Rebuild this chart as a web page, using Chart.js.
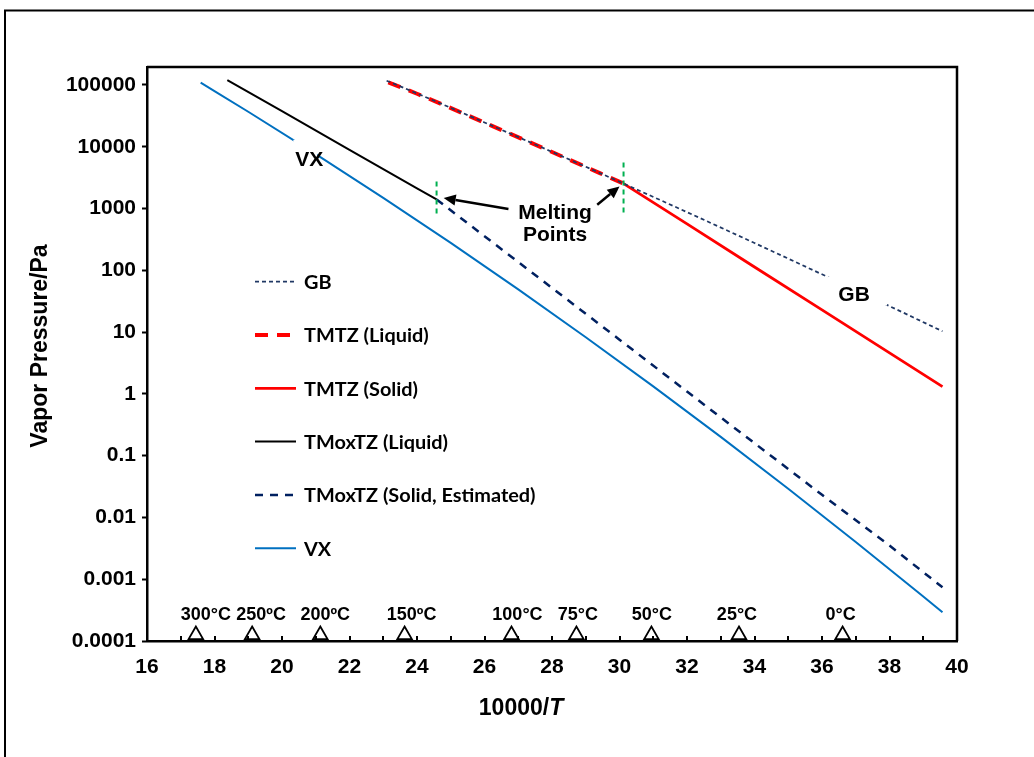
<!DOCTYPE html>
<html><head><meta charset="utf-8">
<script src="https://cdn.jsdelivr.net/npm/chart.js@4.4.1/dist/chart.umd.min.js"></script>
<style>html,body{margin:0;padding:0;background:#fff;}#wrap{width:1034px;height:757px;}</style>
</head><body><div id="wrap"><canvas id="c" width="1034" height="757"></canvas></div>
<script>
// ---------- data ----------
const xTicks = [16,18,20,22,24,26,28,30,32,34,36,38,40];
const yTickValues = [1e-4,1e-3,1e-2,1e-1,1,10,100,1000,10000,100000];
const yTickLabels = ['0.0001','0.001','0.01','0.1','1','10','100','1000','10000','100000'];

const gbX = [23.1, 24, 26, 28, 30.12, 32, 34, 36, 38, 39.57];
const gbP = [117000, 72800, 24700, 8250, 2530, 873, 276, 86, 26.3, 10.3];

const tmtzLiqX = [23.15, 24, 26, 28, 30.12];
const tmtzLiqP = [110000, 72000, 24500, 8200, 2530];

const tmtzSolX = [30.12, 32, 34, 36, 38, 39.57];
const tmtzSolP = [2530, 562, 113, 22.9, 4.61, 1.31];

const tmoxLiqX = [18.38, 20, 22, 24, 24.58];
const tmoxLiqP = [120000, 37600, 8900, 2120, 1400];

const tmoxSolX = [24.58, 26, 28, 30, 32, 34, 36, 38, 39.57];
const tmoxSolP = [1400, 356, 51.8, 7.53, 1.09, 0.159, 0.0232, 0.0035, 0.00074];

const vxX = [17.59, 19, 21, 23, 25, 27, 29, 31, 33, 35, 37, 39, 39.57];
const vxP = [108900, 36800, 7590, 1486, 277, 49.0, 8.24, 1.32, 0.201, 0.0291, 0.00401, 0.000525, 0.000292];

const mp1X = [24.58, 24.58];  const mp1P = [2740, 766];
const mp2X = [30.12, 30.12];  const mp2P = [5560, 794];

const tempC = [300, 250, 200, 150, 100, 75, 50, 25, 0];
const tempLabels = ['300°C','250ºC','200ºC','150ºC','100°C','75°C','50°C','25°C','0°C'];
const markerP = [0.000125,0.000125,0.000125,0.000125,0.000125,0.000125,0.000125,0.000125,0.000125];

const legendNames = ['GB','TMTZ (Liquid)','TMTZ (Solid)','TMoxTZ (Liquid)','TMoxTZ (Solid, Estimated)','VX'];

const curveLabels = [
  {text:'VX', x:20.81, y:6380, pad:[16,19,8,8]},
  {text:'GB', x:36.95, y:41.3, pad:[27,17.5,33,11.5]}
];
const meltText = [{text:'Melting', x:28.09, y:887},{text:'Points', x:28.09, y:378}];
const arrows = [
  {x1:26.71, y1:982, x2:24.79, y2:1480},
  {x1:29.34, y1:1150, x2:30.00, y2:2280}
];

// ---------- build ----------
const pts = (xs, ys) => xs.map((x,i)=>({x, y: ys[i]}));
const tempX = tempC.map(t => 10000/(t+273.15));
const tempLabelShift = [10, 9, 5, 7, 6, 1.5, 0.5, -2, -2];   // px nudges of the label boxes

const AX = "'Liberation Sans', Arial, sans-serif";
const LEG = "Lato, 'Open Sans', sans-serif";

const lineDs = (label, xs, ys, color, width, dash, order, extra) => Object.assign({
  label, data: pts(xs, ys), showLine: true, borderColor: color, backgroundColor: color,
  borderWidth: width, borderDash: dash, pointRadius: 0, pointHoverRadius: 0, fill: false,
  borderCapStyle: 'butt', order
}, extra || {});

const datasets = [
  lineDs(legendNames[0], gbX, gbP, '#203864', 1.75, [4,3], 1, {cubicInterpolationMode:'monotone'}),
  lineDs(legendNames[1], tmtzLiqX, tmtzLiqP, '#FF0000', 4, [13,9], 2, {cubicInterpolationMode:'monotone'}),
  lineDs(legendNames[2], tmtzSolX, tmtzSolP, '#FF0000', 2.75, [], 3),
  lineDs(legendNames[3], tmoxLiqX, tmoxLiqP, '#000000', 2, [], 4),
  lineDs(legendNames[4], tmoxSolX, tmoxSolP, '#002060', 2.5, [8,7], 5),
  lineDs(legendNames[5], vxX, vxP, '#0070C0', 2, [], 6, {cubicInterpolationMode:'monotone'}),
  lineDs('mp1', mp1X, mp1P, '#00B050', 2, [5,4], 0),
  lineDs('mp2', mp2X, mp2P, '#00B050', 2, [5,4], 0),
  { label:'temps', data: pts(tempX, markerP), showLine:false, pointStyle:'triangle', pointRadius:8.5,
    pointHoverRadius:8.5, pointBorderColor:'#000', pointBackgroundColor:'#fff', pointBorderWidth:1.8, clip:false, order:0 }
];

function drawArrow(ctx, x1, y1, x2, y2){
  const ang = Math.atan2(y2-y1, x2-x1), L = 12, W = 5.5;
  const bx = x2 - L*Math.cos(ang), by = y2 - L*Math.sin(ang);
  ctx.beginPath(); ctx.moveTo(x1,y1); ctx.lineTo(bx,by); ctx.lineWidth = 2.5; ctx.strokeStyle='#000'; ctx.stroke();
  ctx.beginPath(); ctx.moveTo(x2,y2);
  ctx.lineTo(bx + W*Math.sin(ang), by - W*Math.cos(ang));
  ctx.lineTo(bx - W*Math.sin(ang), by + W*Math.cos(ang));
  ctx.closePath(); ctx.fillStyle='#000'; ctx.fill();
}

const decor = {
  id: 'decor',
  beforeDraw(chart){
    const ctx = chart.ctx; ctx.save();
    ctx.fillStyle = '#fff'; ctx.fillRect(0,0,chart.width,chart.height);
    ctx.strokeStyle = '#000'; ctx.lineWidth = 2; ctx.strokeRect(5, 10.5, 1200, 1200);
    ctx.restore();
  },
  afterDatasetsDraw(chart){
    const ctx = chart.ctx, xs = chart.scales.x, ys = chart.scales.y;
    ctx.save();
    ctx.font = 'bold 21px ' + AX; ctx.textAlign = 'center'; ctx.textBaseline = 'middle';
    curveLabels.forEach(l => {
      const px = xs.getPixelForValue(l.x), py = ys.getPixelForValue(l.y);
      ctx.fillStyle = '#fff';
      ctx.fillRect(px - l.pad[0], py - l.pad[1], l.pad[0] + l.pad[2], l.pad[1] + l.pad[3]);
      ctx.fillStyle = '#000'; ctx.fillText(l.text, px, py + 1);
    });
    meltText.forEach(l => {
      ctx.fillText(l.text, xs.getPixelForValue(l.x), ys.getPixelForValue(l.y) + 1);
    });
    arrows.forEach(a => drawArrow(ctx, xs.getPixelForValue(a.x1), ys.getPixelForValue(a.y1),
                                       xs.getPixelForValue(a.x2), ys.getPixelForValue(a.y2)));
    ctx.font = 'bold 18px ' + AX; ctx.fillStyle = '#000';
    tempLabels.forEach((t,i) => {
      ctx.fillText(t, xs.getPixelForValue(tempX[i]) + tempLabelShift[i], ys.getPixelForValue(markerP[i]) - 20);
    });
    ctx.restore();
  },
  afterDraw(chart){
    const ctx = chart.ctx, a = chart.chartArea, xs = chart.scales.x;
    ctx.save();
    ctx.strokeStyle = '#000'; ctx.lineWidth = 2.5;
    ctx.beginPath(); ctx.moveTo(a.left, a.top); ctx.lineTo(a.right, a.top); ctx.lineTo(a.right, a.bottom); ctx.stroke();
    ctx.lineWidth = 2;
    for (let v = xTicks[0] + 1; v < xTicks[xTicks.length-1]; v++) {
      const px = Math.round(xs.getPixelForValue(v));
      ctx.beginPath(); ctx.moveTo(px, a.bottom); ctx.lineTo(px, a.bottom - 5); ctx.stroke();
    }
    // legend
    ctx.font = 'bold 100px ' + LEG;
    const legSize = 100 * 125 / ctx.measureText('TMTZ (Liquid)').width;
    ctx.font = 'bold ' + legSize.toFixed(1) + 'px ' + LEG;
    ctx.textAlign = 'left'; ctx.textBaseline = 'middle';
    for (let i = 0; i < 6; i++) {
      const ds = chart.data.datasets[i], y = 281.7 + i * 53.3;
      ctx.save();
      ctx.strokeStyle = ds.borderColor; ctx.lineWidth = ds.borderWidth; ctx.setLineDash(ds.borderDash || []);
      ctx.lineCap = 'butt';
      ctx.beginPath(); ctx.moveTo(255, y); ctx.lineTo(296, y); ctx.stroke();
      ctx.restore();
      ctx.fillStyle = '#000'; ctx.fillText(legendNames[i], 304, y + 1);
    }
    // y title
    ctx.save();
    ctx.translate(41, 346); ctx.rotate(-Math.PI/2);
    ctx.font = 'bold 23px ' + AX;
    ctx.textAlign = 'center'; ctx.textBaseline = 'middle'; ctx.fillStyle = '#000';
    ctx.fillText('Vapor Pressure/Pa', 0, 0);
    ctx.restore();
    // x title
    ctx.font = 'bold 23px ' + AX;
    const p1 = '10000/'; const w1 = ctx.measureText(p1).width;
    ctx.font = 'italic bold 23px ' + AX;
    const w2 = ctx.measureText('T').width;
    const sx = 521 - (w1 + w2) / 2;
    ctx.textAlign = 'left'; ctx.textBaseline = 'middle'; ctx.fillStyle = '#000';
    ctx.font = 'bold 23px ' + AX; ctx.fillText(p1, sx, 709);
    ctx.font = 'italic bold 23px ' + AX; ctx.fillText('T', sx + w1, 709);
    ctx.restore();
  }
};

new Chart(document.getElementById('c'), {
  type: 'scatter',
  data: { datasets },
  options: {
    responsive: false, animation: false, devicePixelRatio: 1,
    layout: { padding: { top: 67, right: 77, left: 0, bottom: 0 } },
    plugins: { legend: { display: false }, tooltip: { enabled: false } },
    events: [],
    scales: {
      x: {
        type: 'linear', min: 16, max: 40,
        afterBuildTicks: s => { s.ticks = xTicks.map(v => ({ value: v })); },
        afterFit: s => { s.height = 116; },
        ticks: { font: { family: AX, size: 21, weight: 'bold' }, color: '#000', padding: 14, maxRotation: 0, autoSkip: false },
        grid: { drawOnChartArea: false, drawTicks: false },
        border: { color: '#000', width: 2.5 }
      },
      y: {
        type: 'logarithmic', min: 1e-4, max: 1.95e5,
        afterBuildTicks: s => { s.ticks = yTickValues.map(v => ({ value: v, major: true })); },
        afterFit: s => { s.width = 147; },
        ticks: {
          font: { family: AX, size: 21, weight: 'bold' }, color: '#000', padding: 6, autoSkip: false,
          callback: v => {
            const i = yTickValues.findIndex(t => Math.abs(Math.log10(t) - Math.log10(v)) < 1e-6);
            return i >= 0 ? yTickLabels[i] : '';
          }
        },
        grid: { drawOnChartArea: false, drawTicks: true, tickLength: 5, tickWidth: 2, tickColor: '#000' },
        border: { color: '#000', width: 2.5 }
      }
    }
  },
  plugins: [decor]
});
</script></body></html>
